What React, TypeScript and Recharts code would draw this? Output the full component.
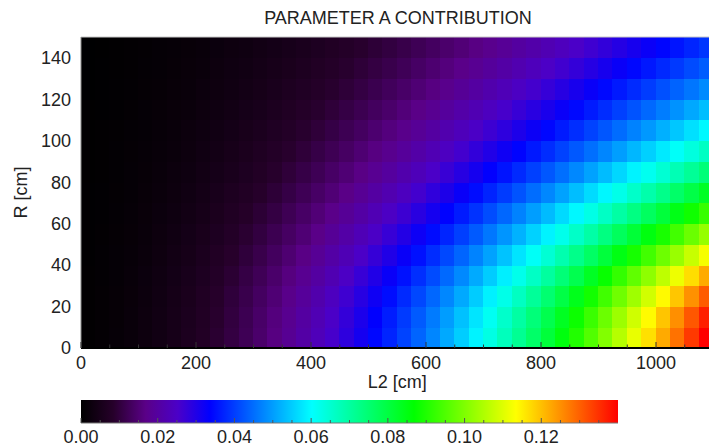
import { ReferenceArea, ReferenceLine, Scatter, ScatterChart, XAxis, YAxis } from "recharts";

// bin edges of the map (L2 along x, R along y), both in cm
const l2Edges = [
  0, 25, 50, 75, 100, 125, 150, 175, 200, 225, 250, 275, 300, 325, 350, 375, 400, 425, 450, 475, 500, 525,
  550, 575, 600, 625, 650, 675, 700, 725, 750, 775, 800, 825, 850, 875, 900, 925, 950, 975, 1000, 1025,
  1050, 1075, 1100,
];
const rEdges = [0, 10, 20, 30, 40, 50, 60, 70, 80, 90, 100, 110, 120, 130, 140, 150];

// contribution per cell, one row per R bin (bottom to top)
const rowR5 = [0.0004, 0.0008, 0.0014, 0.002, 0.0029, 0.0038, 0.0049, 0.0061, 0.0075, 0.009, 0.0106, 0.0123, 0.0142, 0.0163, 0.0184, 0.0207, 0.0232, 0.0257, 0.0285, 0.0313, 0.0343, 0.0374, 0.0406, 0.044, 0.0476, 0.0512, 0.055, 0.0589, 0.063, 0.0672, 0.0715, 0.076, 0.0806, 0.0853, 0.0902, 0.0952, 0.1004, 0.1057, 0.1111, 0.1166, 0.1223, 0.1281, 0.1341, 0.1402];
const rowR15 = [0.0004, 0.0008, 0.0013, 0.002, 0.0028, 0.0037, 0.0048, 0.006, 0.0073, 0.0087, 0.0103, 0.012, 0.0139, 0.0159, 0.018, 0.0202, 0.0226, 0.0251, 0.0278, 0.0305, 0.0335, 0.0365, 0.0397, 0.043, 0.0464, 0.05, 0.0537, 0.0575, 0.0615, 0.0656, 0.0698, 0.0742, 0.0787, 0.0833, 0.088, 0.0929, 0.098, 0.1031, 0.1084, 0.1138, 0.1194, 0.1251, 0.1309, 0.1368];
const rowR25 = [0.0004, 0.0008, 0.0013, 0.0019, 0.0027, 0.0035, 0.0046, 0.0057, 0.007, 0.0083, 0.0099, 0.0115, 0.0133, 0.0151, 0.0172, 0.0193, 0.0216, 0.024, 0.0265, 0.0291, 0.0319, 0.0348, 0.0379, 0.041, 0.0443, 0.0477, 0.0512, 0.0549, 0.0587, 0.0626, 0.0666, 0.0708, 0.0751, 0.0795, 0.084, 0.0887, 0.0935, 0.0984, 0.1034, 0.1086, 0.1139, 0.1193, 0.1249, 0.1305];
const rowR35 = [0.0004, 0.0007, 0.0012, 0.0018, 0.0025, 0.0033, 0.0043, 0.0053, 0.0065, 0.0078, 0.0092, 0.0108, 0.0124, 0.0142, 0.0161, 0.0181, 0.0202, 0.0224, 0.0248, 0.0273, 0.0299, 0.0326, 0.0354, 0.0384, 0.0414, 0.0446, 0.0479, 0.0513, 0.0549, 0.0585, 0.0623, 0.0662, 0.0702, 0.0744, 0.0786, 0.083, 0.0875, 0.0921, 0.0968, 0.1016, 0.1066, 0.1116, 0.1168, 0.1222];
const rowR45 = [0.0003, 0.0007, 0.0011, 0.0016, 0.0023, 0.0031, 0.0039, 0.0049, 0.006, 0.0072, 0.0085, 0.0099, 0.0114, 0.0131, 0.0148, 0.0166, 0.0186, 0.0207, 0.0228, 0.0251, 0.0275, 0.03, 0.0326, 0.0353, 0.0382, 0.0411, 0.0441, 0.0473, 0.0505, 0.0539, 0.0574, 0.061, 0.0647, 0.0685, 0.0724, 0.0764, 0.0805, 0.0848, 0.0891, 0.0936, 0.0982, 0.1028, 0.1076, 0.1125];
const rowR55 = [0.0003, 0.0006, 0.001, 0.0015, 0.0021, 0.0028, 0.0036, 0.0045, 0.0055, 0.0065, 0.0077, 0.009, 0.0104, 0.0119, 0.0135, 0.0151, 0.0169, 0.0188, 0.0208, 0.0229, 0.025, 0.0273, 0.0297, 0.0322, 0.0347, 0.0374, 0.0402, 0.043, 0.046, 0.0491, 0.0522, 0.0555, 0.0589, 0.0623, 0.0659, 0.0695, 0.0733, 0.0772, 0.0811, 0.0852, 0.0893, 0.0936, 0.0979, 0.1024];
const rowR65 = [0.0003, 0.0005, 0.0009, 0.0014, 0.0019, 0.0025, 0.0032, 0.004, 0.0049, 0.0059, 0.007, 0.0081, 0.0094, 0.0107, 0.0122, 0.0137, 0.0153, 0.017, 0.0188, 0.0206, 0.0226, 0.0247, 0.0268, 0.029, 0.0313, 0.0338, 0.0363, 0.0388, 0.0415, 0.0443, 0.0472, 0.0501, 0.0531, 0.0563, 0.0595, 0.0628, 0.0662, 0.0697, 0.0732, 0.0769, 0.0806, 0.0845, 0.0884, 0.0924];
const rowR75 = [0.0003, 0.0005, 0.0008, 0.0012, 0.0017, 0.0023, 0.0029, 0.0036, 0.0044, 0.0053, 0.0063, 0.0073, 0.0084, 0.0096, 0.0109, 0.0123, 0.0137, 0.0152, 0.0168, 0.0185, 0.0203, 0.0221, 0.0241, 0.0261, 0.0282, 0.0303, 0.0326, 0.0349, 0.0373, 0.0398, 0.0423, 0.045, 0.0477, 0.0505, 0.0534, 0.0564, 0.0594, 0.0625, 0.0658, 0.069, 0.0724, 0.0759, 0.0794, 0.083];
const rowR85 = [0.0002, 0.0004, 0.0007, 0.0011, 0.0015, 0.002, 0.0026, 0.0032, 0.004, 0.0047, 0.0056, 0.0065, 0.0075, 0.0086, 0.0098, 0.011, 0.0123, 0.0137, 0.0151, 0.0166, 0.0182, 0.0198, 0.0216, 0.0233, 0.0252, 0.0272, 0.0292, 0.0312, 0.0334, 0.0356, 0.0379, 0.0403, 0.0427, 0.0452, 0.0478, 0.0505, 0.0532, 0.056, 0.0589, 0.0618, 0.0648, 0.0679, 0.0711, 0.0743];
const rowR95 = [0.0002, 0.0004, 0.0007, 0.001, 0.0014, 0.0018, 0.0023, 0.0029, 0.0035, 0.0042, 0.005, 0.0059, 0.0068, 0.0077, 0.0087, 0.0098, 0.011, 0.0122, 0.0135, 0.0149, 0.0163, 0.0177, 0.0193, 0.0209, 0.0226, 0.0243, 0.0261, 0.028, 0.0299, 0.0319, 0.0339, 0.0361, 0.0382, 0.0405, 0.0428, 0.0452, 0.0476, 0.0501, 0.0527, 0.0553, 0.058, 0.0608, 0.0636, 0.0665];
const rowR105 = [0.0002, 0.0004, 0.0006, 0.0009, 0.0012, 0.0016, 0.0021, 0.0026, 0.0032, 0.0038, 0.0045, 0.0052, 0.006, 0.0069, 0.0078, 0.0088, 0.0098, 0.0109, 0.0121, 0.0133, 0.0146, 0.0159, 0.0173, 0.0187, 0.0202, 0.0218, 0.0234, 0.025, 0.0268, 0.0285, 0.0304, 0.0323, 0.0342, 0.0363, 0.0383, 0.0405, 0.0426, 0.0449, 0.0472, 0.0495, 0.052, 0.0544, 0.057, 0.0596];
const rowR115 = [0.0002, 0.0003, 0.0005, 0.0008, 0.0011, 0.0015, 0.0019, 0.0023, 0.0028, 0.0034, 0.004, 0.0047, 0.0054, 0.0062, 0.007, 0.0079, 0.0088, 0.0098, 0.0108, 0.0119, 0.0131, 0.0142, 0.0155, 0.0168, 0.0181, 0.0195, 0.021, 0.0225, 0.024, 0.0256, 0.0273, 0.029, 0.0307, 0.0325, 0.0344, 0.0363, 0.0382, 0.0403, 0.0423, 0.0444, 0.0466, 0.0488, 0.0511, 0.0534];
const rowR125 = [0.0001, 0.0003, 0.0005, 0.0007, 0.001, 0.0013, 0.0017, 0.0021, 0.0026, 0.0031, 0.0036, 0.0042, 0.0049, 0.0056, 0.0063, 0.0071, 0.0079, 0.0088, 0.0097, 0.0107, 0.0117, 0.0128, 0.0139, 0.0151, 0.0163, 0.0175, 0.0188, 0.0202, 0.0216, 0.023, 0.0245, 0.026, 0.0276, 0.0292, 0.0309, 0.0326, 0.0344, 0.0362, 0.038, 0.0399, 0.0419, 0.0439, 0.0459, 0.048];
const rowR135 = [0.0001, 0.0003, 0.0004, 0.0006, 0.0009, 0.0012, 0.0015, 0.0019, 0.0023, 0.0028, 0.0033, 0.0038, 0.0044, 0.005, 0.0057, 0.0064, 0.0072, 0.0079, 0.0088, 0.0097, 0.0106, 0.0115, 0.0125, 0.0136, 0.0147, 0.0158, 0.017, 0.0182, 0.0194, 0.0207, 0.0221, 0.0235, 0.0249, 0.0263, 0.0278, 0.0294, 0.031, 0.0326, 0.0343, 0.036, 0.0378, 0.0395, 0.0414, 0.0433];
const rowR145 = [0.0001, 0.0002, 0.0004, 0.0006, 0.0008, 0.0011, 0.0014, 0.0017, 0.0021, 0.0025, 0.003, 0.0034, 0.004, 0.0045, 0.0051, 0.0058, 0.0065, 0.0072, 0.0079, 0.0087, 0.0096, 0.0104, 0.0113, 0.0123, 0.0133, 0.0143, 0.0153, 0.0164, 0.0176, 0.0187, 0.02, 0.0212, 0.0225, 0.0238, 0.0252, 0.0266, 0.028, 0.0295, 0.031, 0.0325, 0.0341, 0.0357, 0.0374, 0.0391];

const contribution = [
  rowR5, rowR15, rowR25, rowR35, rowR45, rowR55, rowR65, rowR75,
  rowR85, rowR95, rowR105, rowR115, rowR125, rowR135, rowR145,
];

const l2Ticks = [0, 50, 100, 150, 200, 250, 300, 350, 400, 450, 500, 550, 600, 650, 700, 750, 800, 850, 900, 950, 1000, 1050];
const l2Labels = [0, 200, 400, 600, 800, 1000];
const rTicks = [0, 20, 40, 60, 80, 100, 120, 140];
const scaleTicks = [
  0, 0.005, 0.01, 0.015, 0.02, 0.025, 0.03, 0.035, 0.04, 0.045, 0.05, 0.055, 0.06, 0.065, 0.07,
  0.075, 0.08, 0.085, 0.09, 0.095, 0.1, 0.105, 0.11, 0.115, 0.12, 0.125, 0.13, 0.135,
];
const scaleLabels = [0, 0.02, 0.04, 0.06, 0.08, 0.1, 0.12];

const VMAX = 0.14;

// rainbow + black colour table, position along the bar -> rgb
const PALETTE: [number, number[]][] = [
  [0, [0, 0, 0]],
  [0.06, [38, 0, 42]],
  [0.12, [90, 0, 135]],
  [0.18, [75, 0, 200]],
  [0.24, [0, 0, 255]],
  [0.43, [0, 255, 255]],
  [0.62, [0, 255, 0]],
  [0.81, [255, 255, 0]],
  [1, [255, 0, 0]],
];

const rgb = (c: number[]) => `rgb(${c.map((x) => Math.round(x)).join(",")})`;

function colorFor(v: number) {
  const t = Math.min(1, Math.max(0, v / VMAX));
  for (let i = 1; i < PALETTE.length; i++) {
    const [t0, c0] = PALETTE[i - 1];
    const [t1, c1] = PALETTE[i];
    if (t <= t1) {
      const f = (t - t0) / (t1 - t0);
      return rgb(c0.map((a, k) => a + (c1[k] - a) * f));
    }
  }
  return rgb(PALETTE[PALETTE.length - 1][1]);
}

// one record per map cell (centre of its bin), used as the chart's series
const cells = contribution.flatMap((row, i) =>
  row.map((v, j) => ({
    l2: (l2Edges[j] + l2Edges[j + 1]) / 2,
    r: (rEdges[i] + rEdges[i + 1]) / 2,
    v,
  }))
);
const scalePoints = scaleLabels.map((v) => ({ v, y: 0.5 }));

const TEXT = "#222";
const noMarker = () => <g />;

function L2Tick(props: any) {
  const { x, y, payload } = props;
  const major = l2Labels.includes(payload.value);
  return (
    <g>
      <line x1={x} y1={y} x2={x} y2={y - (major ? 6 : 3.5)} stroke="#333" />
      {major && (
        <text x={x} y={y + 21} textAnchor="middle" fontSize={18} fill={TEXT}>
          {payload.value}
        </text>
      )}
    </g>
  );
}

function ScaleTick(props: any) {
  const { x, y, payload } = props;
  const major = scaleLabels.includes(payload.value);
  return (
    <g>
      <line x1={x} y1={y} x2={x} y2={y - (major ? 5 : 3)} stroke="#555" />
      {major && (
        <text x={x} y={y + 20} textAnchor="middle" fontSize={18} fill={TEXT}>
          {payload.value.toFixed(2)}
        </text>
      )}
    </g>
  );
}

function RLabel({ viewBox }: any) {
  const x = viewBox.x + 6;
  const cy = viewBox.y + viewBox.height / 2;
  return (
    <text x={x} y={cy} transform={`rotate(-90 ${x} ${cy})`} textAnchor="middle" fontSize={18} fill={TEXT}>
      R [cm]
    </text>
  );
}

export default function App() {
  return (
    <div
      style={{
        position: "relative",
        width: 709,
        height: 446,
        overflow: "hidden",
        fontFamily: '"Liberation Sans", Arial, sans-serif',
      }}
    >
      <style>{"html, body { margin: 0; padding: 0; overflow: hidden; }"}</style>
      <div style={{ position: "absolute", left: 8, top: 8, width: 701, height: 438, overflow: "hidden" }}>
        <div
          style={{
            position: "absolute",
            left: 190,
            top: 0,
            width: 400,
            textAlign: "center",
            fontSize: 18,
            lineHeight: "20px",
            color: TEXT,
          }}
        >
          PARAMETER A CONTRIBUTION
        </div>

        <div style={{ position: "absolute", left: 0, top: 0 }}>
          <ScatterChart width={710} height={400} margin={{ top: 29, right: 4.5, bottom: 20, left: 13 }}>
            {contribution.map((row, i) =>
              row.map((v, j) => (
                <ReferenceArea
                  key={`${i}-${j}`}
                  x1={l2Edges[j]}
                  x2={l2Edges[j + 1]}
                  y1={rEdges[i]}
                  y2={rEdges[i + 1]}
                  fill={colorFor(v)}
                  fillOpacity={1}
                  stroke={colorFor(v)}
                  strokeWidth={1}
                  shapeRendering="crispEdges"
                />
              ))
            )}
            <ReferenceLine y={150} stroke="#c8c8c8" />
            <Scatter data={cells} shape={noMarker} isAnimationActive={false} />
            <XAxis
              type="number"
              dataKey="l2"
              domain={[0, 1100]}
              allowDataOverflow
              ticks={l2Ticks}
              interval={0}
              tickLine={false}
              tickSize={0}
              tickMargin={0}
              tick={L2Tick}
              axisLine={{ stroke: "#000", strokeWidth: 2 }}
              height={40}
              label={{ value: "L2 [cm]", position: "insideBottom", offset: 0, fontSize: 18, fill: TEXT }}
            />
            <YAxis
              type="number"
              dataKey="r"
              domain={[0, 150]}
              allowDataOverflow
              ticks={rTicks}
              interval={0}
              tickLine={false}
              tickSize={0}
              tickMargin={10}
              width={60}
              tick={{ fontSize: 18, fill: TEXT }}
              axisLine={{ stroke: "#8c8c8c" }}
              label={{ content: RLabel }}
            />
          </ScatterChart>
        </div>

        <div style={{ position: "absolute", left: 0, top: 380 }}>
          <ScatterChart width={710} height={58} margin={{ top: 12, right: 100, bottom: 0, left: 73 }}>
            <defs>
              <linearGradient id="scaleGradient" x1="0" y1="0" x2="1" y2="0">
                {PALETTE.map(([t, c]) => (
                  <stop key={t} offset={t} stopColor={rgb(c)} />
                ))}
              </linearGradient>
            </defs>
            <ReferenceArea x1={0} x2={VMAX} y1={0} y2={1} fill="url(#scaleGradient)" fillOpacity={1} />
            <Scatter data={scalePoints} shape={noMarker} isAnimationActive={false} />
            <XAxis
              type="number"
              dataKey="v"
              domain={[0, VMAX]}
              allowDataOverflow
              ticks={scaleTicks}
              interval={0}
              tickLine={false}
              tickSize={0}
              tickMargin={0}
              tick={ScaleTick}
              axisLine={{ stroke: "#777" }}
              height={23}
            />
            <YAxis type="number" dataKey="y" domain={[0, 1]} allowDataOverflow hide />
          </ScatterChart>
        </div>
      </div>
    </div>
  );
}
